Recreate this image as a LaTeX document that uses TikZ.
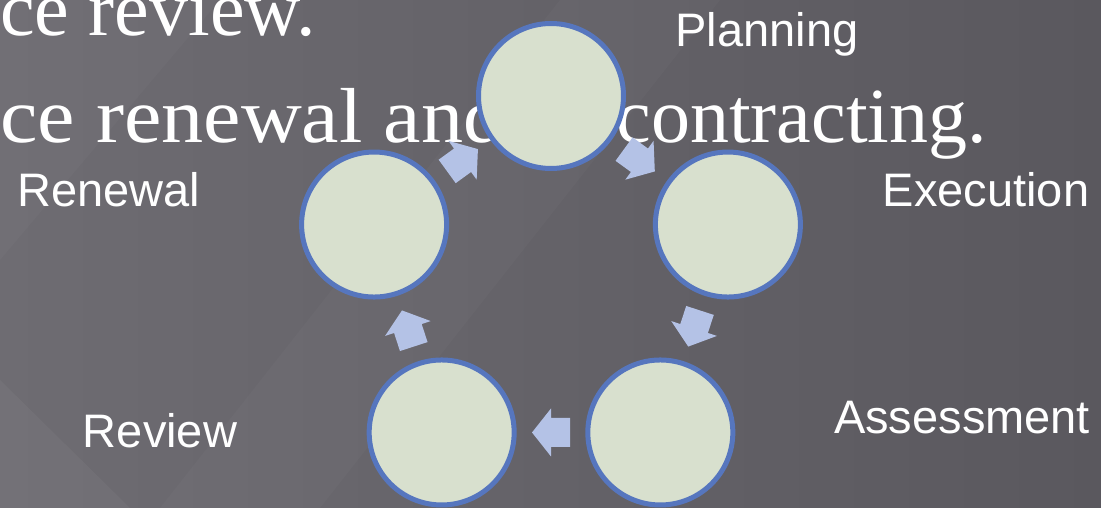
\documentclass[tikz,border=0pt]{standalone}
\usepackage{fontspec}
\setmainfont{Liberation Serif}
\newfontfamily\lbsans{Liberation Sans}
\usetikzlibrary{calc}
\definecolor{bgdark}{HTML}{5A585E}
\definecolor{bglight}{HTML}{6E6C72}
\definecolor{circfill}{HTML}{D8E0CE}
\definecolor{circblue}{HTML}{5676BE}
\definecolor{arrfill}{HTML}{B4C2E6}
\begin{document}
\begin{tikzpicture}[x=1pt,y=1pt,
  stage/.style={circle, draw=circblue, fill=circfill, line width=5pt, minimum size=145pt, inner sep=0pt},
  blockarr/.pic={\fill[arrfill] (-19,-14.5) -- (0,-14.5) -- (0,-24) -- (19,0) -- (0,24) -- (0,14.5) -- (-19,14.5) -- cycle;},
  lbl/.style={text=white, font=\lbsans\fontsize{47}{47}\selectfont, inner sep=0pt, anchor=base},
  bgtext/.style={text=white, font=\fontsize{78}{78}\selectfont, inner sep=0pt}]
\useasboundingbox (0,0) rectangle (1101,-508);
\shade[left color=bglight, right color=bgdark] (0,0) rectangle (1101,-508);
\fill[white, opacity=.04] (0,-380) -- (130,-508) -- (0,-508) -- cycle;
\fill[white, opacity=.025] (560,0) -- (720,0) -- (320,-508) -- (160,-508) -- cycle;
\fill[white, opacity=.025] (0,0) -- (220,0) -- (0,-260) -- cycle;
% background serif text
\node[bgtext, anchor=base west] (t1) at (0,-36) {ce review.};
\node[bgtext, anchor=base west, xscale=1.08] (t2) at (0,-143) {ce renewal and};
\node[bgtext, anchor=base east] (t3) at (987,-143) {contracting.};
% circles
\begin{scope}[shift={(551,-282)}]
\node[stage] (pl) at (90:186) {};
\node[stage] (ex) at (18:186) {};
\node[stage] (as) at (-54:186) {};
\node[stage] (rv) at (-126:186) {};
\node[stage] (rn) at (162:186) {};
\end{scope}
% block arrows
\coordinate (m1) at ($(pl)!0.5!(ex)$);
\coordinate (m2) at ($(ex)!0.5!(as)$);
\coordinate (m3) at ($(as)!0.5!(rv)$);
\coordinate (m4) at ($(rv)!0.5!(rn)$);
\coordinate (m5) at ($(rn)!0.5!(pl)$);
\path (m1) pic[rotate=-36] {blockarr};
\path (m2) pic[rotate=-108] {blockarr};
\path (m3) pic[rotate=180] {blockarr};
\path (m4) pic[rotate=108] {blockarr};
\path (m5) pic[rotate=36] {blockarr};
% labels
\node[lbl] (lpl) at (767,-47) {Planning};
\node[lbl] (lex) at (986,-207) {Execution};
\node[lbl] (las) at (962,-433) {Assessment};
\node[lbl] (lrv) at (160,-447) {Review};
\node[lbl] (lrn) at (109,-207) {Renewal};
\end{tikzpicture}
\end{document}
